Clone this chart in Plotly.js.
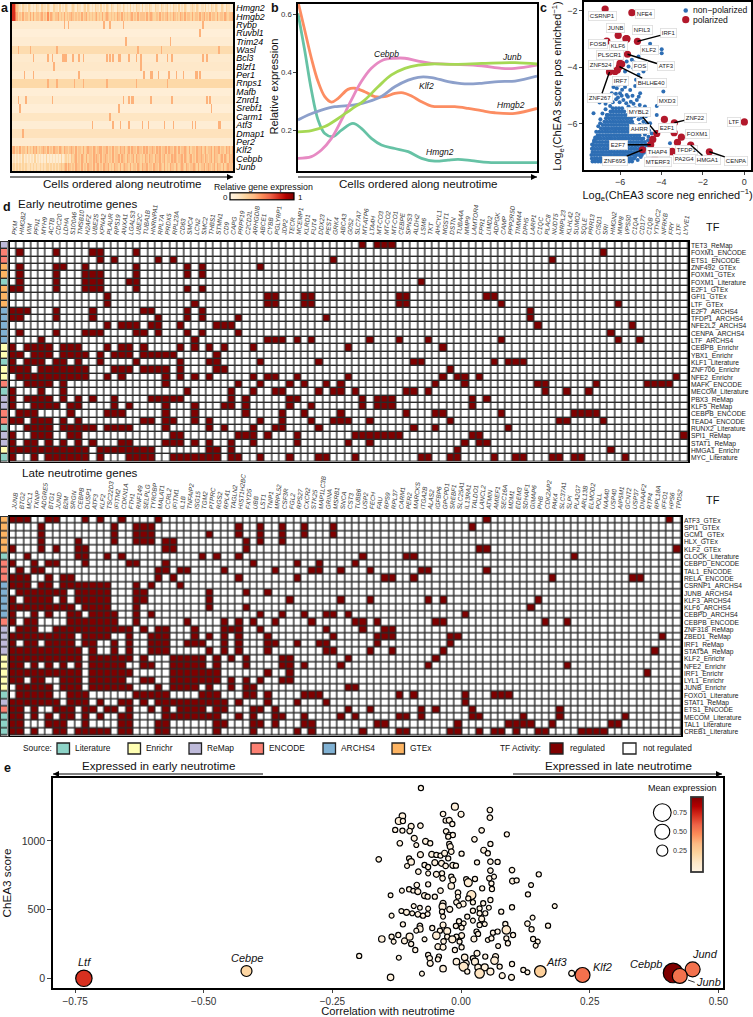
<!DOCTYPE html>
<html><head><meta charset="utf-8">
<script src="https://cdn.plot.ly/plotly-3.0.1.min.js"></script>
<style>html,body{margin:0;padding:0;background:#fff}</style></head>
<body><div id="chart"></div>
<script>
// ---------- panel a ----------
const aGenes=["Hmgn2","Hmgb2","Rybp","Ruvbl1","Trim24","Wasl","Bcl3","Blzf1","Per1","Rnps1","Mafb","Znrd1","Srebf1","Carm1","Atf3","Dmap1","Per2","Klf2","Cebpb","Junb"];
const aDense={
 Hmgn2:"9964321322 1321213211 3221321132 2131213211 2321322123 1321213221 3121321321 1322132121 3121322131 2213211322 1321231213 2213121321 1232132122 1312132132 1132132211",
 Hmgb2:"9975343534 4353534434 5343635434 4534353434 5434343534 5343434534 3534543434 3543534343 4534353444 3534543343 5343453435 4343543534 4353443534 5343534435 3443543445",
 Klf2:"4534353443 5343545343 4543534354 4354354434 5435344353 4544354345 5344534353 4435445345 3544354435 4534454354 5344535443 5435344543 5344354453 4534453544 5344354535",
 Cebpb:"1212121312 1212131212 1213121212 1213123232 4345343543 5344354543 5345434353 4453544354 3453544343 5435443544 5345344354 5434453543 4534354454 3543453544 3453543545",
 Junb:"2323232323 2232323223 2323323232 3234345354 3435443534 3544353453 4354453435 4435345443 5344354354 4534435443 5435343544 3543454354 3445435344 5345434535 4435345444"};
const aBase={Rybp:.1,Ruvbl1:.05,Trim24:.08,Wasl:.2,Bcl3:.1,Blzf1:.12,Per1:.08,Rnps1:.22,Mafb:.06,Znrd1:.1,Srebf1:.06,Carm1:.14,Atf3:.07,Dmap1:.16,Per2:.09};
const aSpikes={Rybp:[35,38,62,66,75,129],Ruvbl1:[127],Trim24:[77,107],Wasl:[4,12,30,85,101,140],
 Bcl3:[14,24,27,34,35,36,41,45,48,64,66,68,72,73,79,84,87,98,105,108,129,132],Blzf1:[28,87],
 Per1:[8,14,45,89,94,95,99,106,111,116,124,125,127],Rnps1:[24,30,42,48,64,84,105],Mafb:[],
 Znrd1:[4,9,27,75,79,81,82,94,108,132,134],Srebf1:[5,72,135],Carm1:[66],
 Atf3:[54,68,73,79,88,92,103,109,122,124,140,141],Dmap1:[7],Per2:[]};
const aCellCount=150, aSpikeLevel=.4, aDenseScale=12;

// ---------- panel b ----------
const bHmgb2X=[0,2.8,5.6,8.4,11.2,14,16.8,20.9,23.7,27.9,32.1,36.3,40.5,44,47.5,51.7,55.9,60,65.6,71.2,76.8,82.4,90.8,100];
const bHmgb2Y=[.645,.547,.449,.368,.316,.297,.31,.341,.345,.333,.316,.316,.327,.329,.318,.298,.283,.281,.281,.275,.267,.26,.258,.275];
const bHmgn2X=[0,2.8,5.6,8.4,11.2,14.7,18.2,23,26.5,30.7,34.9,40.5,46.1,51.7,57.3,62.8,67,72.6,79.6,90.8,100];
const bHmgn2Y=[.605,.477,.339,.235,.188,.177,.2,.223,.206,.171,.148,.136,.125,.102,.092,.096,.098,.094,.088,.087,.087];
const bKlf2X=[0,4.2,9.8,15.4,23.7,29.3,34.9,40.5,46.1,50.3,55.9,62.8,69.8,76.8,83.8,90.8,100];
const bKlf2Y=[.235,.252,.269,.281,.287,.298,.316,.35,.373,.383,.382,.368,.36,.362,.368,.37,.387];
const bJunbX=[0,5.6,11.2,16.8,22.3,27.9,33.5,39.1,44.7,50.3,55.9,65.6,76.8,90.8,100];
const bJunbY=[.194,.198,.212,.24,.272,.304,.35,.391,.414,.425,.429,.428,.431,.434,.429];
const bCebpbX=[0,5.6,9.8,14,18.2,22.3,26.5,30.7,35.6,40.5,44.7,50.3,55.9,65.6,76.8,85.2,90.8,100];
const bCebpbY=[.102,.108,.131,.171,.235,.304,.368,.414,.443,.449,.449,.439,.431,.428,.423,.414,.414,.425];

// ---------- panel c ----------
const cCloudRows=[
[-7.36,[-7.33,-7.2,-7.06,-6.93,-6.78,-6.66,-6.5,-6.38,-6.24,-6.1,-5.98,-5.82,-5.7,-5.56,-5.42]],
[-7.25,[-7.36,-7.22,-7.1,-6.95,-6.82,-6.7,-6.55,-6.42,-6.28,-6.14,-6.0,-5.88,-5.73,-5.6,-5.45,-5.32]],
[-7.13,[-7.38,-7.25,-7.12,-6.98,-6.85,-6.72,-6.58,-6.45,-6.3,-6.18,-6.04,-5.9,-5.78,-5.63,-5.5,-5.37,-5.22,-5.08]],
[-7.02,[-7.33,-7.2,-7.06,-6.92,-6.8,-6.66,-6.52,-6.4,-6.26,-6.12,-5.98,-5.85,-5.72,-5.58,-5.45,-5.3,-5.18,-5.02,-4.9]],
[-6.9,[-7.36,-7.24,-7.1,-6.97,-6.83,-6.7,-6.56,-6.43,-6.3,-6.15,-6.02,-5.9,-5.75,-5.62,-5.48,-5.35,-5.22,-5.08,-4.95,-4.8]],
[-6.78,[-7.3,-7.17,-7.03,-6.9,-6.76,-6.62,-6.5,-6.36,-6.23,-6.1,-5.96,-5.82,-5.7,-5.56,-5.42,-5.28,-5.15,-5.0,-4.88,-4.72]],
[-6.66,[-7.26,-7.12,-6.98,-6.85,-6.7,-6.58,-6.44,-6.3,-6.18,-6.04,-5.9,-5.76,-5.64,-5.5,-5.36,-5.22,-5.1,-4.95,-4.8]],
[-6.54,[-7.18,-7.05,-6.92,-6.78,-6.64,-6.5,-6.38,-6.24,-6.1,-5.97,-5.84,-5.7,-5.57,-5.43,-5.3,-5.16,-5.02,-4.88]],
[-6.42,[-7.08,-6.96,-6.82,-6.68,-6.55,-6.42,-6.28,-6.15,-6.02,-5.88,-5.74,-5.6,-5.47,-5.33,-5.2,-5.06]],
[-6.3,[-7.0,-6.86,-6.72,-6.6,-6.46,-6.32,-6.2,-6.06,-5.92,-5.79,-5.65,-5.52,-5.38,-5.24,-5.1]],
[-6.18,[-6.92,-6.78,-6.65,-6.52,-6.38,-6.25,-6.12,-5.98,-5.84,-5.7,-5.57,-5.44,-5.3,-5.16]],
[-6.06,[-6.84,-6.7,-6.57,-6.43,-6.3,-6.17,-6.03,-5.9,-5.76,-5.62,-5.5,-5.36]],
[-5.94,[-6.76,-6.62,-6.48,-6.35,-6.22,-6.08,-5.95,-5.82,-5.68,-5.54,-5.42]],
[-5.82,[-6.68,-6.54,-6.4,-6.27,-6.13,-6.0,-5.87,-5.73,-5.6,-5.46]],
[-5.7,[-6.58,-6.45,-6.32,-6.18,-6.05,-5.92,-5.78,-5.65]],
[-5.58,[-6.46,-6.33,-6.2,-6.07,-5.93,-5.8]],
[-5.46,[-6.35,-6.2,-6.05,-5.9]]];
const cSparseX=[-4.55,-3.99,-3.99,-4.52,-5.11,-5.43,-5.32,-5.03,-4.79,-4.87,-5.11,-5.68,-5.59,-5.76,-5.35,-5.23,-3.91,-5.84,-6.08,-6.32,-6.16,-5.76,-5.51,-5.27,-6.4,-6,-5.68,-5.03,-6.99,-6.56,-6.19,-5.84,-5.48,-5.19,-6.48,-5.59,-5.27,-7.28,-4.87,-4.23,-5.19,-4.87,-4.55,-4.15,-4.23,-3.67,-4.47,-4.79,-4.63,-4.95,-4.63,-3.59,-5.27,-4.95,-4.71,-7.15,-6.96,-6.64,-7.25,
 -6.25,-6.05,-5.9,-6.2,-6.55,-6.1,-5.92,-5.62,-5.4,-5.1,-6.7,-6.35,-6.02,-5.7,-5.35,-5.05,-4.8,-5.45,-5.2,-5,-5.3,-5.1,-4.95,-4.75,-5.05,-4.9,-4.7,-4.6,-4.8,-4.65,-4.75,-4.6,-4.85,-5,-5.15,-6.95,-7.05,-7.2,-7.35,-6.85,-6.7];
const cSparseY=[-3.17,-3.36,-3.5,-3.44,-3.62,-3.74,-3.83,-3.86,-3.98,-4.15,-4.27,-3.8,-3.98,-4.15,-4.04,-4.45,-4.87,-4.45,-4.51,-4.71,-4.75,-4.71,-4.81,-4.67,-4.93,-4.93,-4.99,-4.93,-5.26,-5.17,-5.14,-5.17,-5.23,-5.17,-5.38,-5.4,-5.46,-5.64,-5.64,-5.38,-5.7,-5.94,-6,-6.3,-5.7,-6.24,-6.36,-6.18,-6.48,-6.65,-6.89,-6.71,-7.19,-7.13,-7.31,-6.3,-6,-5.7,-6.6,
 -4.55,-4.62,-4.8,-4.95,-5,-5.08,-5.02,-5.05,-5.02,-5.05,-5.3,-5.25,-5.25,-5.28,-5.3,-5.35,-5.4,-5.5,-5.55,-5.6,-5.75,-5.85,-5.8,-5.75,-6.05,-6.1,-6,-6.25,-6.4,-6.6,-6.75,-6.95,-7.05,-7.2,-7.3,-5.85,-6.1,-6.5,-6.75,-5.65,-5.5];
const cPolNames=["CSRNP1","NFE4","JUNB","NFIL3","IRF1","FOSB","KLF6","KLF2","ATF3","PLSCR1","FOS","BHLHE40","ZNF524","IRF7","ZNF267","MXD3","ZNF22","E2F1","LTF","FOXM1","TFDP1","MYBL2","AHRR","E2F7","ZNF695","THAP4","PA2G4","MTERF3","HMGA1","CENPA"];
const cPolX=[-6.72,-5.43,-6.09,-5.68,-5.16,-6.64,-5.72,-5.67,-5.64,-6,-5.92,-6.03,-6.13,-6.24,-6.51,-3.86,-3.38,-3.39,0,-3.04,-3.23,-4.23,-4.42,-4.52,-4.92,-3.5,-3.48,-4.32,-2.59,-1.69];
const cPolY=[-1.93,-2.06,-2.87,-2.98,-3.08,-3.07,-2.99,-3,-3.54,-3.86,-3.89,-3.98,-4.1,-4.15,-4.17,-5.86,-5.98,-6.33,-5.95,-6.49,-6.68,-6.36,-6.57,-6.76,-6.94,-7.01,-7,-7.25,-6.77,-7.01];
// label offsets from the point, and which labels keep a leader line
const cLabelOffset={CSRNP1:[-3,7],NFE4:[13,1],JUNB:[-3,-7],NFIL3:[16,-9],IRF1:[31,-8],FOSB:[-9,3],KLF6:[-7,7],KLF2:[23,11],ATF3:[38,12],PLSCR1:[-10,-8],FOS:[18,2],BHLHE40:[32,16],ZNF524:[-16,-5],IRF7:[5,10],ZNF267:[-9,26],MXD3:[3,-18],ZNF22:[21,-5],E2F1:[-7,-5],LTF:[-10,0],FOXM1:[16,-3],TFDP1:[9,8],MYBL2:[-18,-21],AHRR:[-13,-10],E2F7:[-32,0],ZNF695:[-27,11],THAP4:[-14,0],PA2G4:[12,8],MTERF3:[3,4],HMGA1:[17,15],CENPA:[27,9]};
const cLeaders=["IRF1","ATF3","BHLHE40","ZNF267","ZNF22","MYBL2","E2F7","ZNF695","HMGA1","CENPA"];
const cLegendX=[-2.83,-2.83], cLegendY=[-1.98,-2.31];

// ---------- panel d ----------
const earlyGenes=["PKM","HMGB2","VIM","PFN1","MYH9","ACTB","CDC20","LDHA","S100A6","TMSB10","H2AFZ","UBE2S","KPNA2","PLAUR","RPS19","ANXA1","LGALS3","UBE2C","TUBA1B","HNRNPA1","RPL7A","PRDX5","RPL23A","CD63","SMC4","LCN2","SMC2","THBS1","STMN1","CD9","CAPG","PRPF19","C2CD2L","ARHGDIB","ABCE1","CYBB","PGLYRP1","JDP2","TECR","MCEMP1","KLRD1","FUT4","DDX23","PEST","GRK4","ABCA3","G0S2","SLC7A7","MT-ATP6","LTA4H","MT-CO3","MT-CO2","MT-CO1","CEBPE","SPNS3","ALDH2","LSM6","TKT","AHCYL1","MGST1","DSTN","TUBA4A","MMP9","LAMTOR4","FPR1","LIMD2","ADPGK","CAMP","PPP2R5D","TIMM44","DPH5","LARP1","C1QC","PLAC8","NUDT5","MRPL23","KLHL42","SUMO2","SQLE","PRR13","CISD1","SRI","HMGN2","MMP8","VPS50","C1QA","CD177","C1QB","YTHDC2","NFRKB","FRY","LTF","LYVE1"];
const earlyTFs=["TET3_ReMap","FOXM1_ENCODE","ETS1_ENCODE","ZNF492_GTEx","FOXM1_GTEx","FOXM1_Literature","E2F1_GTEx","GFI1_GTEx","LTF_GTEx","E2F7_ARCHS4","TFDP1_ARCHS4","NFE2L2_ARCHS4","CENPA_ARCHS4","LTF_ARCHS4","CEBPB_Enrichr","YBX1_Enrichr","KLF1_Literature","ZNF706_Enrichr","NFE2_Enrichr","MAFK_ENCODE","MECOM_Literature","PBX3_ReMap","KLF5_ReMap","CEBPB_ENCODE","TEAD4_ENCODE","RUNX2_Literature","SPI1_ReMap","STAT1_ReMap","HMGA1_Enrichr","MYC_Literature"];
const earlyHits=[
[48,50,51,52],[1,6,11,12,17,81],[12,14,20,22,44,74],[1,6,7,10,17,24,26,34],[1,6,10,11,12,17,24,26],
[1,6,10,11,12,16,17,56],[0,1,6,10,11,12,17,24,26],[13,35,36,40,41,53,54,65,66],[13,25,35,36,40,41,53,54,67,83],[0,1,2,6,11,18,19,24,26,71],
[0,1,6,11,20,24,26,31,43,71],[13,15,16,17,19,20,23,28,29,30,72,85],[1,6,10,11,12,17,18,20,24,26,31,82],[4,25,35,36,37,39,41,49,53,57,67,83,86],[0,2,3,4,5,7,8,9,13,15,16,18,23,25,27,29,33,46,59],
[0,1,3,4,5,7,8,9,10,12,14,15,16,18,19,20,21,22,28],[0,2,3,4,6,7,9,12,17,23,27,28,34,42,55,56,66,68,69,70],[0,1,2,4,5,6,7,8,9,10,14,15,16,18,19,20,21,23,28,29,60],[1,2,3,4,5,6,7,8,9,10,13,15,21,23,25,27,33,35,36,39,46,59,61,62,64,91],[2,3,4,5,7,21,31,34,38,40,43,45,58,62,72,73,80,87,88,89,90],
[0,4,7,24,30,33,36,37,42,44,45,47,54,55,57,73,76,79],[0,2,3,4,5,7,9,11,14,19,20,21,22,23,30,32,38,39,48,50,51,52,63,65],[0,3,4,5,6,8,9,14,16,21,25,29,30,32,38,41,48,50,51,52,63],[1,2,3,8,13,14,15,21,25,32,37,40,45,54,58,59,67,77,78,79,80],[0,1,3,4,5,7,9,18,19,21,22,25,27,34,37,41,44,45,46,49,60,75,76,81],
[2,3,4,5,7,8,9,10,11,13,14,15,16,21,27,29,33,36,37,42,55,58,68],[0,3,4,5,8,9,22,23,31,32,33,35,39,47,48,49,50,51,52,53,63,64,92],[0,2,3,5,7,9,11,15,16,21,22,23,25,27,30,33,39,46,49,62,64,65],[0,1,2,3,4,5,6,7,8,9,10,12,13,14,15,16,17,18,19,27,28,30,61,82],[0,3,5,6,7,8,9,10,12,16,17,18,19,22,23,24,25,26,27,28,30,31,34,38,42,43,47,56,57,60,61,66,69,70,74,75,77,78,84]];
const lateGenes=["JUNB","BTG2","MCL1","TXNIP","ADGRE5","BTG1","JUND","B2M","SRGN","CEBPB","DUSP1","ATF3","KLF2","TSC22D3","IFITM2","CDKN1A","FTH1","RNF149","SELPLG","TYROBP","MALAT1","CCRL2","IFITM1","IL1B","TNFAIP2","ISG15","TGM2","PTPRC","RGS2","RPL41","TAGLN2","HIST1H2BC","FXYD5","UBB","LST1","TNIP1","MRPL52","CSF3R","FGL2","RPS27","CXCR2","STK25","MAP1LC3B","GRINA","MSRB1","SNCA","CST3","TUBB6","USP2","FECH","FAU","RPS9","RPL37","CARM1","PER2","MARCKS","ITGA2B","ALAS2","IGFBP6","GPCPD1","SREBF1","SLC25A1","IL13RA1","TALDO1","LANCL2","ATMIN","AMIEF1","SEC16A","MDM1","EDEM3","SDHAF1","GIMAP6","PHB","CDK2AP2","PAK4","SLC37A1","SLPI","PLA2G7","ARL13B","ELMOD2","POLL","NAA40","USP40","AIP5M1","GCNT2","USP37","DNAAF2","RTP4","RPL18A","IFFO1","HPS6","TPD52"];
const lateTFs=["ATF3_GTEx","SPI1_GTEx","GCM1_GTEx","HLX_GTEx","KLF2_GTEx","CLOCK_Literature","CEBPD_ENCODE","TAL1_ENCODE","RELA_ENCODE","CSRNP1_ARCHS4","JUNB_ARCHS4","KLF3_ARCHS4","KLF6_ARCHS4","CEBPD_ARCHS4","CEBPB_ENCODE","ZNF318_ReMap","ZBED1_ReMap","IRF1_ReMap","STAT5A_ReMap","KLF2_Enrichr","NFE2_Enrichr","IRF1_Enrichr","LYL1_Enrichr","JUNB_Enrichr","FOXO1_Literature","STAT1_ReMap","ETS1_ENCODE","MECOM_Literature","TAL1_Literature","CREB1_Literature"];
const lateHits=[
[0,1,2,5,6,10,12,15,20,65,90],[4,14,17,18,19,31,34,37,40,44,63],[4,14,17,18,19,27,31,34,37,40,44],[4,9,14,17,18,19,21,22,32,34,37],[0,4,6,9,10,21,22,32,64,65,91],
[2,9,10,13,15,26,28,31,48,54,55,77],[0,3,5,6,10,16,17,21,33,39,42,47],[1,3,4,20,21,23,24,29,36,41,42,45,49,56,57,65],[0,1,2,5,7,8,20,22,31,39,51,52,55,74,85,86],[0,1,2,4,5,7,8,9,10,11,12,13,17,19,23],
[1,2,3,4,5,6,7,9,10,11,12,13,17,18,27,32,35],[0,2,3,4,5,7,9,10,11,12,13,17,18,27,38,45,49,57,59,72],[0,1,2,3,4,5,6,7,8,10,11,12,13,17,27,32,71],[0,3,5,8,9,11,12,13,14,17,19,34,37,40,43,44,46,62],[0,2,3,8,9,10,11,12,13,14,17,24,29,31,33,36,41,47,48,50,58,59,73,76],
[1,2,3,6,7,8,9,10,11,12,13,14,15,16,18,20,21,25,29,30,31,34,43,48,51,52],[0,1,2,3,4,5,6,7,8,10,11,12,13,16,19,20,21,25,27,29,31,35,44,50,51,52,60,61,89],[0,2,3,5,6,7,8,10,11,14,16,19,20,21,24,25,26,29,31,35,36,39,42,43,50,60],[0,1,2,3,4,5,6,7,8,9,11,14,16,19,20,21,27,29,31,35,43,44,49,52,59,88],[0,1,2,3,4,5,6,7,8,9,11,12,13,14,15,16,18,22,23,24,25,26,28,30,32,37,38,46,58],
[0,1,3,5,7,9,11,12,13,14,15,18,19,22,23,24,25,26,28,32,37,38,40,45,57,76],[0,1,2,3,4,5,6,7,8,9,11,12,13,14,15,16,22,23,24,25,26,27,28,35,38,87],[0,1,3,4,7,8,9,11,12,13,14,15,18,19,22,23,24,25,26,27,28,30,32,34,37,38],[1,2,3,4,5,7,8,9,11,12,13,14,15,16,20,22,23,24,25,27,30,32,33,46,47],[1,2,3,4,5,8,9,10,17,18,19,20,21,26,27,28,32,33,35,40,41,42,53,55,62,66,67,68],
[0,1,2,3,4,5,6,8,9,10,12,15,16,18,20,21,22,23,24,25,26,27,28,29,31,35,39,43,62],[0,1,3,6,7,8,10,11,13,14,16,19,21,23,24,25,26,28,29,33,34,36,46,49,56,58,63,75],[0,1,3,5,7,8,10,12,15,16,21,22,23,24,25,26,27,28,31,33,36,37,40,45,47,53,54,56,63,64,70,75,84],[0,1,5,6,7,10,15,16,20,21,28,29,33,34,36,40,41,50,51,61,68,69,70,71,74,82,83],[0,1,3,6,7,9,10,11,12,13,15,16,20,21,28,33,39,41,48,53,54,60,61,64,66,67,69,72,73,78,79,80,81]];
const sources=["Literature","Enrichr","ReMap","ENCODE","ARCHS4","GTEx"];
const sourceColors=["#8DD3C7","#FFFFB3","#BEBADA","#FB8072","#80B1D3","#FDB462"];

// ---------- panel e ----------
const tfCorr=[-.078,-.012,-.035,0,.056,.056,-.114,-.121,-.113,-.03,-.023,-.017,-.097,-.079,-.128,-.114,-.1,-.029,.04,.089,-.091,-.023,-.016,-.025,.026,-.069,-.06,-.119,-.087,-.023,.057,-.021,.044,.052,-.019,.001,-.079,-.057,-.048,-.04,-.032,-.025,-.101,-.16,-.097,-.051,-.038,-.071,-.064,-.105,-.03,-.016,-.01,.031,.057,.071,.057,.099,-.083,-.064,-.048,-.037,.151,-.036,-.019,-.016,.01,.027,.055,.064,.1,.108,-.086,-.064,-.019,.014,.059,.041,.136,-.101,-.115,-.093,-.084,-.04,-.006,.06,-.137,-.071,-.065,-.051,.02,-.006,.13,-.009,.014,.023,.043,.057,-.035,-.036,-.092,-.08,-.064,.004,-.004,.036,.054,.099,.182,-.116,-.106,-.095,-.084,-.074,-.065,-.037,-.022,-.135,.047,.036,.078,.012,-.035,.04,.023,.036,.046,.139,-.113,-.08,-.035,-.004,.005,.023,.086,.129,.169,-.08,-.087,-.056,-.041,-.027,-.01,.001,.088,.137,-.122,-.135,-.154,-.131,-.1,-.048,-.027,.001,-.009,.03,.033,.025,.062,.071,.101,.088,-.11,-.097,-.071,-.034,-.017,-.003,.052,.059,.091,.14,.149,.145,-.089,-.045,-.035,-.012,.001,.072,-.121,-.064,-.061,-.043,-.045,.007,.031,.047,.067,.065,.023,.027,-.06,-.009,.01,.099,.005,.075,-.035,.033,.046,.012,.057,.036,-.076,-.137,.08,.098,.121,.129,.215,-.198];
const tfScore=[1385,1249,1196,1194,1225,1169,1181,1145,1145,1148,1150,1123,1106,1111,1080,1075,1072,1070,1077,1048,1019,1043,1043,1031,1012,997,983,983,970,978,978,958,932,910,922,907,900,902,898,893,910,873,873,866,847,842,837,825,810,818,818,822,820,844,849,847,784,788,776,764,757,764,757,728,740,716,721,723,728,740,708,713,679,684,672,696,691,655,679,648,638,638,631,638,623,650,604,602,594,594,606,594,611,553,582,553,546,570,546,522,526,514,507,541,529,509,514,517,526,490,480,473,466,456,468,485,502,456,473,473,485,449,449,432,492,388,395,442,393,381,388,415,400,420,395,398,383,359,347,366,347,344,381,369,352,357,315,303,286,267,303,311,303,311,303,340,323,286,332,340,315,291,272,250,284,269,284,267,279,291,255,286,267,238,206,230,226,206,226,235,150,170,146,158,138,153,182,158,158,129,146,121,109,121,109,104,85,85,70,80,80,49,49,36,34,7,19,7,61,44,36,163];
const tfMean=[.005,.035,.009,.016,.009,.009,.024,.035,.005,.005,.016,.005,.016,.009,.005,.005,.009,.009,.009,.005,.016,.009,.005,.005,.009,.016,.005,.009,.003,.005,.005,.016,.016,.005,.009,.005,.016,.016,.005,.005,.016,.005,.005,.009,.024,.016,.016,.005,.005,.003,.009,.016,.005,.005,.009,.005,.009,.009,.009,.003,.016,.005,.005,.009,.005,.016,.005,.005,.009,.003,.016,.005,.009,.005,.024,.06,.005,.005,.003,.005,.003,.002,.016,.009,.009,.005,.002,.016,.005,.005,.1,.003,.005,.009,.005,.005,.005,.005,.016,.035,.003,.002,.003,.016,.003,.005,.003,.005,.003,.003,.016,.003,.009,.005,.003,.005,.016,.003,.005,.005,.005,.005,.003,.016,.005,.005,.003,.003,.005,.009,.016,.005,.003,.003,.005,.009,.005,.024,.003,.005,.005,.035,.005,.005,.08,.005,.005,.005,.024,.003,.035,.048,.005,.016,.005,.005,.005,.016,.005,.005,.005,.005,.016,.005,.003,.009,.035,.005,.003,.005,.005,.005,.003,.003,.005,.016,.016,.005,.005,.003,.003,.005,.009,.005,.005,.024,.016,.005,.016,.048,.005,.035,.016,.024,.016,.005,.1,.005,.024,.024,.035,.005,.035,.12,.003,.024,.016,.016,.005,.003,.016,.005];
const namedTF=["Ltf","Cebpe","Atf3","Klf2","Cebpb","Jund","Junb"];
const namedCorr=[-.733,-.417,.154,.236,.412,.45,.425];
const namedScore=[0,53,51,24,39,65,17];
const namedMean=[.6,.19,.22,.47,.95,.47,.47];
const sizeLegendMean=[.75,.5,.25], sizeLegendCorr=[.391,.391,.391], sizeLegendScore=[1206,1067,929];

// ---------- drawing ----------
const W=753,H=1017,FONT="Liberation Sans",INK="#111";
const orrd=[[0,"#FFF4E3"],[.125,"#FEE8C8"],[.25,"#FDD49E"],[.375,"#FDBB84"],[.5,"#FC8D59"],[.625,"#EF6548"],[.75,"#D7301F"],[.875,"#B30000"],[1,"#7F0000"]];
const dx=(a,b)=>[a/W,b/W], dy=(top,bot)=>[1-bot/H,1-top/H];
const sizeOf=m=>4+16*Math.sqrt(m);
const annotations=[], shapes=[];
const note=(x,y,text,size,o={})=>annotations.push(Object.assign({xref:"paper",yref:"paper",x:x/W,y:1-y/H,text,showarrow:false,xanchor:"center",yanchor:"middle",font:{size,family:FONT,color:INK}},o));
const pageLine=(x0,y0,x1,y1,w)=>shapes.push({type:"line",xref:"paper",yref:"paper",x0:x0/W,x1:x1/W,y0:1-y0/H,y1:1-y1/H,line:{color:"#000",width:w}});
const arrow=(x0,x1,y)=>{
  pageLine(x0,y,x1,y,1.2);
  const d=x1>x0?1:-1, p=(x,yy)=>(x/W)+" "+(1-yy/H);
  shapes.push({type:"path",xref:"paper",yref:"paper",path:"M "+p(x1,y)+" L "+p(x1-6*d,y-3)+" L "+p(x1-6*d,y+3)+" Z",fillcolor:"#000",line:{width:0}});
};

const aZ=aGenes.map(g=>{
  const out=[];
  if(aDense[g]){for(const c of aDense[g].replace(/ /g,"")) out.push(+c/aDenseScale);return out;}
  for(let i=0;i<aCellCount;i++) out.push(aSpikes[g].includes(i)?aSpikeLevel:aBase[g]);
  return out;
});
const frame={showline:true,mirror:true,linecolor:"#000",linewidth:1.6,zeroline:false,showgrid:false};
const traces=[];
const layout={width:W,height:H,margin:{l:0,r:0,t:0,b:0,pad:0},paper_bgcolor:"#fff",plot_bgcolor:"#fff",showlegend:false,font:{family:FONT,color:INK},annotations,shapes,hovermode:false};

// a
traces.push({type:"heatmap",xaxis:"x",yaxis:"y",y:aGenes,z:aZ,colorscale:orrd,zmin:0,zmax:1,
  colorbar:{orientation:"h",x:230/W,xanchor:"left",y:1-201/H,yanchor:"bottom",len:64,lenmode:"pixels",thickness:7,thicknessmode:"pixels",showticklabels:false,ticks:"",xpad:0,ypad:0,outlinecolor:"#000",outlinewidth:1.2}});
layout.xaxis=Object.assign({},frame,{domain:dx(12,233),showticklabels:false,ticks:""});
layout.yaxis=Object.assign({},frame,{domain:dy(4,171),side:"right",autorange:"reversed",tickmode:"linear",dtick:1,ticks:"",ticklen:0,tickfont:{size:8.8,style:"italic",family:FONT,color:"#000"}});

// b
const bLines=[["Hmgn2",bHmgn2X,bHmgn2Y,"#66C2A5"],["Hmgb2",bHmgb2X,bHmgb2Y,"#FC8D62"],["Klf2",bKlf2X,bKlf2Y,"#8DA0CB"],["Cebpb",bCebpbX,bCebpbY,"#E78AC3"],["Junb",bJunbX,bJunbY,"#A6D854"]];
bLines.forEach(([name,x,y,color])=>traces.push({type:"scatter",mode:"lines",name,x,y,xaxis:"x2",yaxis:"y2",line:{color,width:2.8,shape:"spline",smoothing:1}}));
layout.xaxis2=Object.assign({},frame,{domain:dx(298,537),range:[0,100],showticklabels:false,ticks:""});
layout.yaxis2=Object.assign({},frame,{domain:dy(2,171),range:[.058,.644],tickvals:[.2,.4,.6],ticktext:["0.2","0.4","0.6"],ticks:"outside",ticklen:3,tickwidth:1,tickfont:{size:7.8,color:"#333",family:FONT},
  title:{text:"Relative expression",font:{size:11,family:FONT,color:INK},standoff:0},anchor:"x2"});

// c
const cloudX=[],cloudY=[];
cCloudRows.forEach(([y,xs])=>xs.forEach(x=>{cloudX.push(x);cloudY.push(y);}));
traces.push({type:"scatter",mode:"markers",name:"non-polarized",x:cloudX.concat(cSparseX),y:cloudY.concat(cSparseY),xaxis:"x3",yaxis:"y3",marker:{size:4,color:"#2E6EB4"}});
traces.push({type:"scatter",mode:"markers",name:"polarized",x:cPolX,y:cPolY,text:cPolNames,xaxis:"x3",yaxis:"y3",marker:{size:7.2,color:"#B2182B"}});
traces.push({type:"scatter",mode:"markers",x:cLegendX.slice(0,1),y:cLegendY.slice(0,1),xaxis:"x3",yaxis:"y3",marker:{size:4.5,color:"#2E6EB4"}});
traces.push({type:"scatter",mode:"markers",x:cLegendX.slice(1),y:cLegendY.slice(1),xaxis:"x3",yaxis:"y3",marker:{size:7.2,color:"#B2182B"}});
layout.xaxis3=Object.assign({},frame,{domain:dx(584,751),range:[-7.74,.32],tickvals:[-6,-4,-2,0],ticktext:["−6","−4","−2","0"],ticks:"outside",ticklen:3,tickwidth:1,tickfont:{size:9,color:"#333",family:FONT},anchor:"y3",
  title:{text:"Log<sub>e</sub>(ChEA3 score neg enriched<sup>−1</sup>)",font:{size:11,family:FONT,color:INK},standoff:0}});
layout.yaxis3=Object.assign({},frame,{domain:dy(2,170),range:[-7.66,-1.68],tickvals:[-6,-4,-2],ticktext:["−6","−4","−2"],ticks:"outside",ticklen:3,tickwidth:1,tickfont:{size:9,color:"#333",family:FONT},anchor:"x3",
  title:{text:"Log<sub>e</sub>(ChEA3 score pos enriched<sup>−1</sup>)",font:{size:11,family:FONT,color:INK},standoff:3}});
cPolNames.forEach((n,i)=>{
  const [ox,oy]=cLabelOffset[n], lead=cLeaders.includes(n);
  const base={xref:"x3",yref:"y3",x:cPolX[i],y:cPolY[i],text:n,bgcolor:"#fff",bordercolor:"#ddd",borderwidth:.8,borderpad:1,font:{size:6,family:FONT,color:"#222"}};
  if(lead) annotations.push(Object.assign(base,{showarrow:true,ax:ox,ay:oy,arrowhead:0,arrowwidth:1.4,arrowcolor:"#000",standoff:0}));
  else annotations.push(Object.assign(base,{showarrow:false,xshift:ox,yshift:-oy}));
});
annotations.push({xref:"x3",yref:"y3",x:cLegendX[0]+.25,y:cLegendY[0],text:"non−polarized",showarrow:false,xanchor:"left",font:{size:8.6,family:FONT,color:INK}});
annotations.push({xref:"x3",yref:"y3",x:cLegendX[1]+.25,y:cLegendY[1],text:"polarized",showarrow:false,xanchor:"left",font:{size:8.6,family:FONT,color:INK}});

// d
const sourceIndex=t=>[sources.indexOf(t.split("_").pop())];
const hitMatrix=(rows,genes)=>rows.map(r=>genes.map((_,i)=>r.includes(i)?1:0));
const srcScale=sourceColors.map((c,i)=>[i/5,c]);
const dGroups=[
 {genes:earlyGenes,tfs:earlyTFs,hits:earlyHits,top:242,bot:461.5,right:688,ids:[4,5]},
 {genes:lateGenes,tfs:lateTFs,hits:lateHits,top:516.5,bot:735.5,right:681,ids:[6,7]}];
dGroups.forEach((g,k)=>{
  const [ax,ay]=g.ids;
  traces.push({type:"heatmap",x:g.genes,y:g.tfs,z:hitMatrix(g.hits,g.genes),xaxis:"x"+ax,yaxis:"y"+ax,zmin:0,zmax:1,colorscale:[[0,"#fff"],[1,"#7F0000"]],showscale:false,xgap:1.4,ygap:1.4});
  layout["xaxis"+ax]=Object.assign({},frame,{domain:dx(9.5,g.right),side:"top",anchor:"y"+ax,tickmode:"linear",dtick:1,ticks:"",tickangle:-85,tickfont:{size:6.4,style:"italic",family:FONT,color:"#333"}});
  layout["yaxis"+ax]=Object.assign({},frame,{domain:dy(g.top,g.bot),side:"right",anchor:"x"+ax,autorange:"reversed",tickmode:"linear",dtick:1,ticks:"",tickfont:{size:6.7,family:FONT,color:"#222"}});
  traces.push({type:"heatmap",y:g.tfs,x:["source"],z:g.tfs.map(sourceIndex),xaxis:"x"+ay,yaxis:"y"+ay,zmin:0,zmax:5,colorscale:srcScale,showscale:false,xgap:1,ygap:1.4});
  layout["xaxis"+ay]={domain:dx(1,7.5),anchor:"y"+ay,showticklabels:false,ticks:"",showgrid:false,zeroline:false,showline:true,mirror:true,linecolor:"#333",linewidth:1};
  layout["yaxis"+ay]={domain:dy(g.top,g.bot),anchor:"x"+ay,autorange:"reversed",showticklabels:false,ticks:"",showgrid:false,zeroline:false,showline:true,mirror:true,linecolor:"#333",linewidth:1};
  [ax,ay].forEach(n=>{
    shapes.push({type:"rect",layer:"below",xref:"x"+n+" domain",yref:"y"+n+" domain",x0:0,x1:1,y0:0,y1:1,fillcolor:"#2a2a2a",line:{width:0}});
  });
});

// e
const allCorr=tfCorr.concat(namedCorr), allScore=tfScore.concat(namedScore), allMean=tfMean.concat(namedMean);
traces.push({type:"scatter",mode:"markers",name:"TF",x:allCorr,y:allScore,xaxis:"x8",yaxis:"y8",
  marker:{opacity:1,size:allMean.map(sizeOf),color:allMean,cmin:0,cmax:.8,colorscale:orrd,line:{color:"#000",width:1.2},
   showscale:true,colorbar:{x:691/W,xanchor:"left",y:1-872/H,yanchor:"bottom",len:75,lenmode:"pixels",thickness:12,thicknessmode:"pixels",showticklabels:false,ticks:"",xpad:0,ypad:0,outlinecolor:"#333",outlinewidth:1.8}}});
traces.push({type:"scatter",mode:"markers",x:sizeLegendCorr,y:sizeLegendScore,xaxis:"x8",yaxis:"y8",marker:{opacity:1,size:[17.8,15,11.2],color:"#fff",line:{color:"#000",width:1.1}}});
layout.xaxis8=Object.assign({},frame,{domain:dx(53,723),range:[-.793,.509],tickvals:[-.75,-.5,-.25,0,.25,.5],ticktext:["−0.75","−0.50","−0.25","0.00","0.25","0.50"],ticks:"outside",ticklen:3,tickwidth:1,tickfont:{size:10,color:"#333",family:FONT},anchor:"y8",
  title:{text:"Correlation with neutrotime",font:{size:11.2,family:FONT,color:INK},standoff:5}});
layout.yaxis8=Object.assign({},frame,{domain:dy(778,988),range:[-70.6,1458],tickvals:[0,500,1000],ticks:"outside",ticklen:4,tickwidth:1,tickfont:{size:10.6,color:"#333",family:FONT},anchor:"x8",
  title:{text:"ChEA3 score",font:{size:11.7,family:FONT,color:INK},standoff:7}});
sizeLegendMean.forEach((m,i)=>annotations.push({xref:"x8",yref:"y8",x:.407,y:sizeLegendScore[i],text:m.toFixed(2),showarrow:false,xanchor:"left",font:{size:7.2,family:FONT,color:"#333"}}));

// text, arrows, legends
note(5,8,"<b>a</b>",12.5);note(275,8,"<b>b</b>",12.5);note(543,8,"<b>c</b>",12.5);note(7,207,"<b>d</b>",12.5);note(8,768,"<b>e</b>",12.5);
note(122,184,"Cells ordered along neutrotime",11.6);note(419,184,"Cells ordered along neutrotime",11.6);
arrow(10,233,177);arrow(298,537,177);
note(263,187,"Relative gene expression",8.8);note(225,197,"0",8);note(300,197,"1",8);
note(386,54,"Cebpb",8.5,{font:{size:8.5,style:"italic",family:FONT,color:INK}});
note(512,57,"Junb",8.5,{font:{size:8.5,style:"italic",family:FONT,color:INK}});
note(426,86,"Klf2",8.5,{font:{size:8.5,style:"italic",family:FONT,color:INK}});
note(511,105,"Hmgb2",8.5,{font:{size:8.5,style:"italic",family:FONT,color:INK}});
note(440,152,"Hmgn2",8.5,{font:{size:8.5,style:"italic",family:FONT,color:INK}});
note(16,204,"Early neutrotime genes",11.6,{xanchor:"left"});
note(20,473,"Late neutrotime genes",11.6,{xanchor:"left"});
note(713,227,"TF",11);note(713,500,"TF",11);
note(21,748,"Source:",8.4,{xanchor:"left"});
const legendBoxes=[[57,"Literature",0],[128,"Enrichr",1],[189,"ReMap",2],[251,"ENCODE",3],[323,"ARCHS4",4],[392,"GTEx",5]];
legendBoxes.forEach(([x,t,i])=>{
  shapes.push({type:"rect",xref:"paper",yref:"paper",x0:x/W,x1:(x+12.5)/W,y0:1-754/H,y1:1-743/H,fillcolor:sourceColors[i],line:{color:"#222",width:1.3}});
  note(x+16,748,t,8.4,{xanchor:"left"});
});
note(498,748,"TF Activity:",8.4,{xanchor:"left"});
shapes.push({type:"rect",xref:"paper",yref:"paper",x0:550/W,x1:563/W,y0:1-754/H,y1:1-743/H,fillcolor:"#7F0000",line:{color:"#222",width:1.3}});
note(568,748,"regulated",8.4,{xanchor:"left"});
shapes.push({type:"rect",xref:"paper",yref:"paper",x0:623/W,x1:636/W,y0:1-754/H,y1:1-743/H,fillcolor:"#fff",line:{color:"#222",width:1.3}});
note(641,748,"not regulated",8.4,{xanchor:"left"});
note(158,765,"Expressed in early neutrotime",11.6);note(618,765,"Expressed in late neutrotime",11.6);
arrow(263,53,774);arrow(513,722,774);
note(682,788,"Mean expression",9);
const eLabels=[["Ltf",84,962],["Cebpe",247,958],["Atf3",556,962],["Klf2",602,967],["Cebpb",646,964],["Jund",705,954],["Junb",708,982]];
eLabels.forEach(([t,x,y])=>note(x,y,t,11,{font:{size:11,style:"italic",family:FONT,color:INK}}));
pageLine(688,980,694.7,982.3,.8);

Plotly.newPlot("chart",traces,layout,{staticPlot:true,displayModeBar:false});
</script></body></html>
